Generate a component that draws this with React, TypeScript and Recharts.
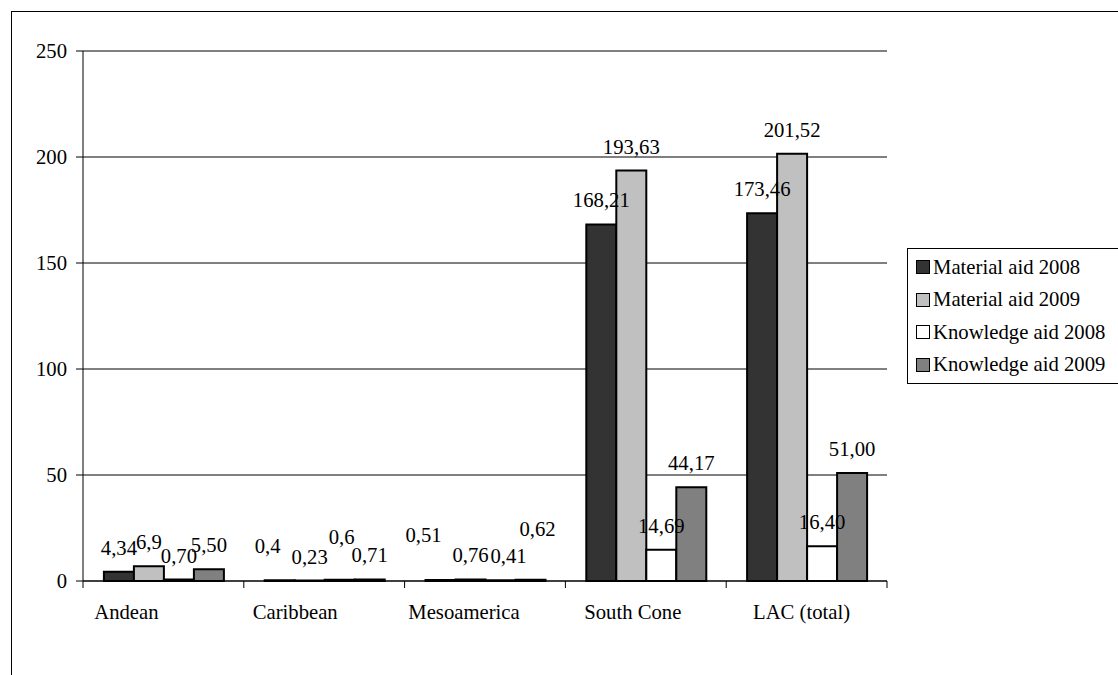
import { BarChart, Bar, XAxis, YAxis, CartesianGrid, Legend, LabelList } from "recharts";

const regions = ["Andean", "Caribbean", "Mesoamerica", "South Cone", "LAC (total)"];
const material2008 = [4.34, 0.4, 0.51, 168.21, 173.46];
const material2009 = [6.9, 0.23, 0.76, 193.63, 201.52];
const knowledge2008 = [0.7, 0.6, 0.41, 14.69, 16.4];
const knowledge2009 = [5.5, 0.71, 0.62, 44.17, 51.0];

const material2008Labels = ["4,34", "0,4", "0,51", "168,21", "173,46"];
const material2009Labels = ["6,9", "0,23", "0,76", "193,63", "201,52"];
const knowledge2008Labels = ["0,70", "0,6", "0,41", "14,69", "16,40"];
const knowledge2009Labels = ["5,50", "0,71", "0,62", "44,17", "51,00"];

const yTicks = [0, 50, 100, 150, 200, 250];

const FONT = "'Liberation Serif', 'Times New Roman', serif";
const FS = 20.7;

const rows = regions.map((region, i) => ({
  region,
  m08: material2008[i],
  m09: material2009[i],
  k08: knowledge2008[i],
  k09: knowledge2009[i],
}));

// hand-moved labels in the original (key: series-index -> [dx, dy])
const nudges: Record<string, [number, number]> = {
  "m08-1": [-12, -10],
  "k08-1": [2, -19],
  "m08-2": [-17, -21],
  "k08-2": [8, 0],
  "k09-2": [7, -27],
};

const series = [
  { key: "m08", name: "Material aid 2008", fill: "#333333", labels: material2008Labels },
  { key: "m09", name: "Material aid 2009", fill: "#C0C0C0", labels: material2009Labels },
  { key: "k08", name: "Knowledge aid 2008", fill: "#FFFFFF", labels: knowledge2008Labels },
  { key: "k09", name: "Knowledge aid 2009", fill: "#808080", labels: knowledge2009Labels },
];

const makeLabel = (key: string, labels: string[]) => (props: any) => {
  const { x, y, width, index } = props;
  const [dx, dy] = nudges[`${key}-${index}`] || [0, 0];
  return (
    <text
      x={Number(x) + Number(width) / 2 + dx}
      y={Number(y) - 24 + dy}
      textAnchor="middle"
      dominantBaseline="central"
      fontFamily={FONT}
      fontSize={FS}
      fill="#000"
    >
      {labels[index]}
    </text>
  );
};

const CategoryTick = (props: any) => {
  const { x, y, payload, index, visibleTicksCount } = props;
  const half = payload && payload.offset ? payload.offset : 80.4;
  const shift = -37 + index * 8;
  return (
    <g>
      <line x1={x - half} y1={y} x2={x - half} y2={y + 7} stroke="#000" />
      {index === visibleTicksCount - 1 && (
        <line x1={x + half} y1={y} x2={x + half} y2={y + 7} stroke="#000" />
      )}
      <text x={x + shift} y={y + 38} textAnchor="middle" fontFamily={FONT} fontSize={FS} fill="#000">
        {payload.value}
      </text>
    </g>
  );
};

const LegendBox = () => (
  <div
    style={{
      border: "1px solid #000",
      background: "#fff",
      padding: "2px 0 2px 8px",
      fontFamily: FONT,
      fontSize: FS,
      color: "#000",
    }}
  >
    {series.map((s) => (
      <div key={s.key} style={{ display: "flex", alignItems: "center", height: 32.5 }}>
        <span
          style={{
            width: 12,
            height: 12,
            background: s.fill,
            border: "1.5px solid #000",
            marginRight: 3,
            display: "inline-block",
          }}
        />
        <span style={{ whiteSpace: "nowrap" }}>{s.name}</span>
      </div>
    ))}
  </div>
);

export default function App() {
  return (
    <div style={{ position: "relative", width: 1118, height: 675, overflow: "hidden", background: "#fff" }}>
      <style>{"body{margin:0}"}</style>
      <div
        style={{
          position: "absolute",
          left: 11,
          top: 11,
          width: 1200,
          height: 800,
          border: "1px solid #000",
        }}
      />
      <div style={{ position: "absolute", left: 0, top: 0 }}>
        <BarChart
          width={1118}
          height={675}
          data={rows}
          margin={{ top: 51, right: 231, bottom: 64, left: 23 }}
          barCategoryGap="13%"
          barGap={0}
        >
          <CartesianGrid vertical={false} stroke="#000" strokeWidth={1} />
          <XAxis
            dataKey="region"
            height={30}
            axisLine={{ stroke: "#000" }}
            tickLine={false}
            tickSize={0}
            tickMargin={0}
            interval={0}
            tick={<CategoryTick />}
          />
          <YAxis
            width={60}
            domain={[0, 250]}
            ticks={yTicks}
            interval={0}
            axisLine={{ stroke: "#000" }}
            tickLine={{ stroke: "#000" }}
            tickSize={7}
            tickMargin={9}
            tick={{ fill: "#000", fontSize: FS, fontFamily: FONT }}
          />
          <Legend
            layout="vertical"
            align="center"
            verticalAlign="middle"
            wrapperStyle={{ left: 907, top: 248, width: 240 }}
            content={<LegendBox />}
          />
          {series.map((s) => (
            <Bar
              key={s.key}
              dataKey={s.key}
              name={s.name}
              fill={s.fill}
              stroke="#000"
              strokeWidth={2}
              isAnimationActive={false}
            >
              <LabelList dataKey={s.key} content={makeLabel(s.key, s.labels)} />
            </Bar>
          ))}
        </BarChart>
      </div>
    </div>
  );
}
